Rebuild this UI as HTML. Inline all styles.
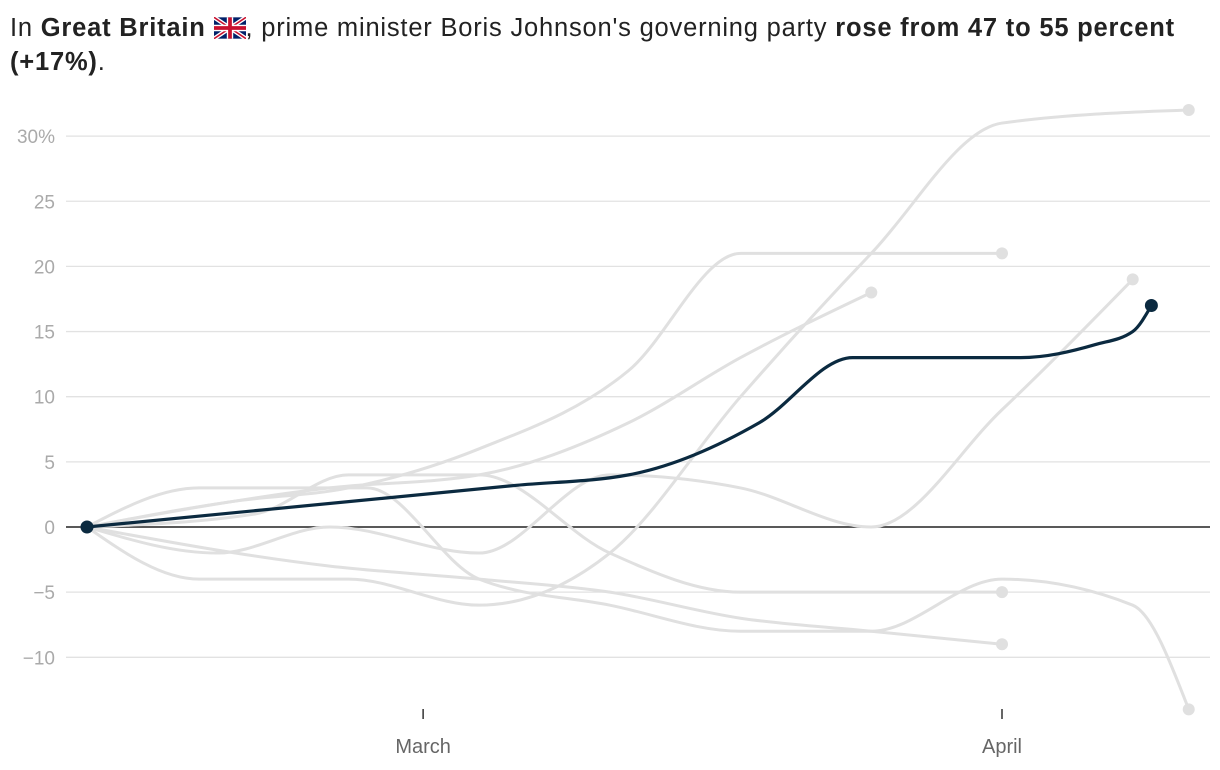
<!DOCTYPE html>
<html><head><meta charset="utf-8"><style>
body{margin:0;background:#fff;width:1220px;height:770px;overflow:hidden;font-family:"Liberation Sans",sans-serif}
#title{position:absolute;left:10px;top:11px;width:1210px;font-size:25.5px;letter-spacing:0.8px;line-height:34px;color:#222;white-space:nowrap}
#title b{font-weight:bold}
svg text{font-family:"Liberation Sans",sans-serif}
</style></head><body>
<div id="title">In <b>Great Britain</b> <svg width="32" height="22" viewBox="0 0 60 40" style="vertical-align:-3px"><rect width="60" height="40" fill="#012169"/><path d="M0 0L60 40M60 0L0 40" stroke="#fff" stroke-width="8"/><path d="M0 0L60 40M60 0L0 40" stroke="#C8102E" stroke-width="3"/><path d="M30 0V40M0 20H60" stroke="#fff" stroke-width="12"/><path d="M30 0V40M0 20H60" stroke="#C8102E" stroke-width="7"/></svg>, prime minister Boris Johnson's governing party <b>rose from 47 to 55 percent</b><br><b>(+17%)</b>.</div>
<svg id="chart" width="1220" height="770" style="position:absolute;left:0;top:0"></svg>
<script>
const yTicks=[30,25,20,15,10,5,0,-5,-10];
const yTickLabels=["30%","25","20","15","10","5","0","\u22125","\u221210"];
const xTickDays=[18,49];
const xTickLabels=["March","April"];
const gray1Days=[0,6,14,21,28,35,42,49,59];   const gray1Vals=[0,-4,-4,-6,-2,10,21,31,32];
const gray2Days=[0,8,14,21,29,35,49];         const gray2Vals=[0,2,3,6,12,21,21];
const gray3Days=[0,13,21,29,35,42];           const gray3Vals=[0,3,4,8,13,18];
const gray4Days=[0,7,13,21,28,35,42,49,56];   const gray4Vals=[0,-2,0,-2,4,3,0,9,19];
const gray5Days=[0,9,14,21,28,35,49];         const gray5Vals=[0,1,4,4,-2,-5,-5];
const gray6Days=[0,6,15,21,28,35,42,49,56,59];const gray6Vals=[0,3,3,-4,-6,-8,-8,-4,-6,-14];
const gray7Days=[0,13,21,28,35,42,49];        const gray7Vals=[0,-3,-4,-5,-7,-8,-9];
const mainDays=[0,23,29,36,41,50,54,56,57];   const mainVals=[0,3.2,4,8,13,13,14,15,17];

const NS="http://www.w3.org/2000/svg";
const svg=document.getElementById('chart');
const X=d=>87+d*(1002-87)/49;
const Y=v=>527-v*13.03;
function mk(t,a,p){const e=document.createElementNS(NS,t);for(const k in a)e.setAttribute(k,a[k]);(p||svg).appendChild(e);return e;}
function monotone(pts){
  const n=pts.length;if(n<2)return "";
  const xs=pts.map(p=>p[0]),ys=pts.map(p=>p[1]);const m=[],dx=[],s=[];
  for(let i=0;i<n-1;i++){dx[i]=xs[i+1]-xs[i];s[i]=(ys[i+1]-ys[i])/dx[i];}
  m[0]=s[0];m[n-1]=s[n-2];
  for(let i=1;i<n-1;i++){m[i]=(s[i-1]*s[i]<=0)?0:(Math.sign(s[i-1])*Math.min(Math.abs(s[i-1]),Math.abs(s[i]),0.5*Math.abs((dx[i-1]*s[i]+dx[i]*s[i-1])/(dx[i-1]+dx[i])))*2);}
  m[0]=(3*s[0]-m[1])/2;m[n-1]=(3*s[n-2]-m[n-2])/2;
  if(n===2){m[0]=m[1]=s[0];}
  let d=`M${xs[0]},${ys[0]}`;
  for(let i=0;i<n-1;i++){const h=dx[i]/3;d+=`C${xs[i]+h},${ys[i]+m[i]*h} ${xs[i+1]-h},${ys[i+1]-m[i+1]*h} ${xs[i+1]},${ys[i+1]}`;}
  return d;
}
yTicks.forEach((t,i)=>{
  const g=mk('line',{x1:66,x2:1210,y1:Y(t),y2:Y(t),stroke:t===0?'#222':'#e2e2e2','stroke-width':t===0?1.5:1.3});
  
  
  const l=mk('text',{x:55,y:Y(t)+7,'text-anchor':'end','font-size':19,fill:'#aaa'});
  l.textContent=yTickLabels[i];
  
  
});
xTickDays.forEach((d,i)=>{
  const tk=mk('line',{x1:X(d),x2:X(d),y1:709,y2:719,stroke:'#333','stroke-width':1.5});
  
  
  const l=mk('text',{x:X(d),y:753,'text-anchor':'middle','font-size':20,fill:'#666'});
  l.textContent=xTickLabels[i];
  
  
});
const grays=[[gray1Days,gray1Vals],[gray2Days,gray2Vals],[gray3Days,gray3Vals],[gray4Days,gray4Vals],[gray5Days,gray5Vals],[gray6Days,gray6Vals],[gray7Days,gray7Vals]];
grays.forEach((s,i)=>{
  const pts=s[0].map((d,j)=>[X(d),Y(s[1][j])]);
  const p=mk('path',{d:monotone(pts),fill:'none',stroke:'#e0e0e0','stroke-width':3});
  
  
  const e=pts[pts.length-1];
  const c=mk('circle',{cx:e[0],cy:e[1],r:6,fill:'#e0e0e0'});
  
  
});
const mp=mainDays.map((d,j)=>[X(d),Y(mainVals[j])]);
const ml=mk('path',{d:monotone(mp),fill:'none',stroke:'#0b2a40','stroke-width':3.2});


[mp[0],mp[mp.length-1]].forEach(p=>{
  const c=mk('circle',{cx:p[0],cy:p[1],r:6.5,fill:'#0b2a40'});
  
  
});
</script>
</body></html>
